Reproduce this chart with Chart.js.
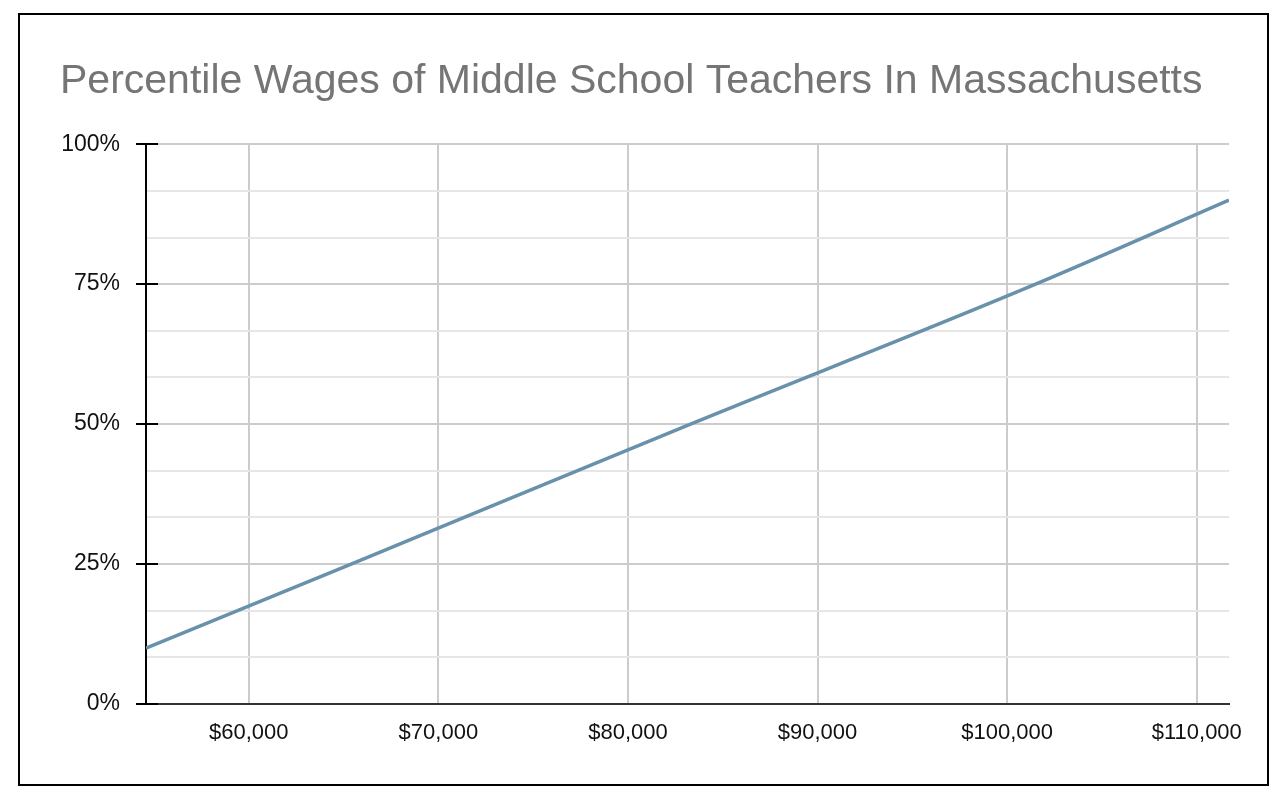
<!DOCTYPE html>
<html>
<head>
<meta charset="utf-8">
<script src="https://cdn.jsdelivr.net/npm/chart.js@4.4.1/dist/chart.umd.min.js"></script>
<style>
    body { margin: 0; background: #fff; }
    #wrap { position: relative; width: 1288px; height: 799px; }
    #frame {
        position: absolute; left: 18px; top: 13px;
        width: 1247px; height: 769px;
        border: 2px solid #000; pointer-events: none;
    }
</style>
</head>
<body>
<div id="wrap">
    <canvas id="wageChart" width="1288" height="799"></canvas>
    <div id="frame"></div>
</div>
<script>
const chartTitle = 'Percentile Wages of Middle School Teachers In Massachusetts';
// annual wage at each percentile (10th, 25th, median, 75th, 90th)
const wages = [54580, 65400, 83300, 101500, 111700];
const percentiles = [10, 25, 50, 75, 90];
const xTicks = [60000, 70000, 80000, 90000, 100000, 110000];
const yMajorTicks = [0, 25, 50, 75, 100];

function isMajor(v) {
    return Math.abs(v % 25) < 0.01 || Math.abs(25 - (v % 25)) < 0.01;
}

// short black tick marks that cross the y axis into the plot
const axisTicks = {
    id: 'axisTicks',
    afterDraw(chart) {
        const ctx = chart.ctx;
        const y = chart.scales.y;
        ctx.save();
        ctx.strokeStyle = '#000';
        ctx.lineWidth = 2;
        yMajorTicks.forEach(v => {
            const py = Math.round(y.getPixelForValue(v));
            ctx.beginPath();
            ctx.moveTo(y.right, py);
            ctx.lineTo(y.right + 12, py);
            ctx.stroke();
        });
        ctx.restore();
    }
};

const ctx = document.getElementById('wageChart').getContext('2d');

new Chart(ctx, {
    type: 'line',
    data: {
        datasets: [{
            label: 'Percentile',
            data: wages.map((w, i) => ({ x: w, y: percentiles[i] })),
            borderColor: 'rgb(104, 145, 171)',
            borderWidth: 3.5,
            pointRadius: 0,
            fill: false,
            cubicInterpolationMode: 'monotone'
        }]
    },
    options: {
        responsive: false,
        animation: false,
        layout: { padding: { left: 60, right: 59, top: 0, bottom: 0 } },
        plugins: {
            legend: { display: false },
            tooltip: { enabled: false },
            title: {
                display: true,
                text: chartTitle,
                align: 'start',
                color: '#757575',
                font: { family: 'Liberation Sans, Arial, sans-serif', size: 41, weight: 'normal' },
                padding: { top: 57, bottom: 38 }
            }
        },
        scales: {
            x: {
                type: 'linear',
                min: wages[0],
                max: wages[wages.length - 1],
                afterBuildTicks: scale => {
                    scale.ticks = xTicks.map(v => ({ value: v }));
                },
                afterFit: scale => { scale.height = 95; },
                grid: { color: '#cccccc', lineWidth: 2, drawTicks: false },
                border: { color: '#333333', width: 2 },
                ticks: {
                    padding: 16,
                    color: '#111',
                    font: { family: 'Liberation Sans, Arial, sans-serif', size: 22 },
                    callback: v => '$' + v.toLocaleString('en-US')
                }
            },
            y: {
                min: 0,
                max: 100,
                afterBuildTicks: scale => {
                    const t = [];
                    for (let i = 0; i <= 12; i++) t.push({ value: i * 25 / 3 });
                    scale.ticks = t;
                },
                afterFit: scale => { scale.width = 86; },
                grid: {
                    color: c => isMajor(c.tick.value) ? '#cccccc' : '#e6e6e6',
                    lineWidth: 2,
                    tickLength: 10,
                    tickColor: c => isMajor(c.tick.value) ? '#000' : 'rgba(0,0,0,0)',
                    tickWidth: 2
                },
                border: { color: '#000', width: 2 },
                ticks: {
                    padding: 16,
                    color: '#111',
                    font: { family: 'Liberation Sans, Arial, sans-serif', size: 23 },
                    autoSkip: false,
                    callback: v => isMajor(v) ? Math.round(v) + '%' : ''
                }
            }
        }
    },
    plugins: [axisTicks]
});
</script>
</body>
</html>
